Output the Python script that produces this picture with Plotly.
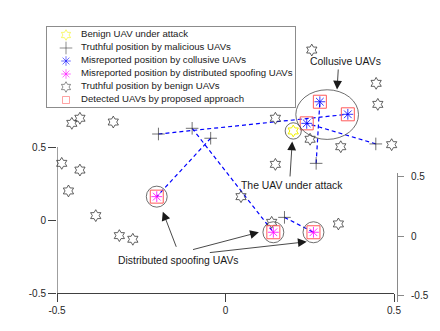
import plotly.graph_objects as go

FONT = "Liberation Sans, Arial, sans-serif"
W, H = 440, 331
OFF = 8  # page body margin the browser adds around the plot div

# truthful positions reported by benign UAVs
benign_x = [0.256, 0.447, 0.452, -0.456, -0.432, -0.333, 0.148, 0.251, 0.342, 0.493,
            -0.486, -0.432, -0.466, 0.148, -0.385, -0.315, -0.275, 0.046, 0.137, 0.335]
benign_y = [1.164, 0.936, 0.792, 0.662, 0.697, 0.671, 0.697, 0.553, 0.502, 0.516,
            0.388, 0.342, 0.199, 0.381, 0.030, -0.107, -0.132, 0.160, -0.016, -0.027]

# benign UAV under attack
target_x = [0.201]
target_y = [0.610]

# malicious UAVs: truthful positions (first three collusive, last three spoofing)
mal_x = [-0.199, 0.269, 0.446, -0.099, -0.044, 0.175]
mal_y = [0.589, 0.388, 0.521, 0.628, 0.560, 0.018]

# misreported positions, same order as the malicious UAVs above
col_x = [0.363, 0.280, 0.241]
col_y = [0.724, 0.810, 0.662]
spf_x = [0.142, -0.204, 0.261]
spf_y = [-0.084, 0.160, -0.084]

legend_names = ["Benign UAV under attack",
                "Truthful position by malicious UAVs",
                "Misreported position by collusive UAVs",
                "Misreported position by distributed spoofing UAVs",
                "Truthful position by benign UAVs",
                "Detected UAVs by proposed approach"]

tick_vals = [-0.5, 0, 0.5]
tick_text = ["-0.5", "0", "0.5"]


def dom_x(a, b):
    """window pixels -> paper domain (x)"""
    return [(a - OFF) / W, (b - OFF) / W]


def dom_y(top, bottom):
    """window pixels -> paper domain (y)"""
    return [1 - (bottom - OFF) / H, 1 - (top - OFF) / H]


fig = go.Figure()

# dashed link truthful -> misreported
rep_x = col_x + spf_x
rep_y = col_y + spf_y
lx, ly = [], []
for i in range(len(mal_x)):
    lx += [mal_x[i], rep_x[i], None]
    ly += [mal_y[i], rep_y[i], None]
fig.add_trace(go.Scatter(x=lx, y=ly, mode="lines",
                         line=dict(color="#0000ff", width=1.2, dash="4px,3px")))

fig.add_trace(go.Scatter(x=benign_x, y=benign_y, mode="markers", cliponaxis=False,
                         marker=dict(symbol="hexagram-open", size=9, color="#3a3a3a",
                                     line=dict(width=0.8))))
fig.add_trace(go.Scatter(x=target_x, y=target_y, mode="markers", cliponaxis=False,
                         marker=dict(symbol="hexagram-open", size=9, color="#f2f200",
                                     line=dict(width=1))))
fig.add_trace(go.Scatter(x=mal_x, y=mal_y, mode="markers", cliponaxis=False,
                         marker=dict(symbol="cross-thin-open", size=9, color="#333333",
                                     line=dict(width=0.7))))
fig.add_trace(go.Scatter(x=col_x, y=col_y, mode="markers", cliponaxis=False,
                         marker=dict(symbol="asterisk-open", size=9, color="#0000ff",
                                     line=dict(width=0.8))))
fig.add_trace(go.Scatter(x=spf_x, y=spf_y, mode="markers", cliponaxis=False,
                         marker=dict(symbol="asterisk-open", size=9, color="#ff00ff",
                                     line=dict(width=0.8))))
fig.add_trace(go.Scatter(x=rep_x, y=rep_y, mode="markers", cliponaxis=False,
                         marker=dict(symbol="square-open", size=13, color="#ff5a5a",
                                     line=dict(width=1))))

# empty trace so that the right hand axis gets drawn
fig.add_trace(go.Scatter(x=[None], y=[None], xaxis="x", yaxis="y3", hoverinfo="skip"))

# hand made legend on its own small axes (px units inside the box)
rows = list(range(len(legend_names)))
row_y = [35 + 13 * r for r in rows]
leg_symbols = ["hexagram-open", "cross-thin-open", "asterisk-open", "asterisk-open",
               "hexagram-open", "square-open"]
leg_colors = ["#f2f200", "#333333", "#0000ff", "#ff00ff", "#3a3a3a", "#ff5a5a"]
leg_sizes = [8, 9, 8, 8, 8, 7]
fig.add_trace(go.Scatter(x=[66] * len(rows), y=row_y, xaxis="x2", yaxis="y2", mode="markers",
                         cliponaxis=False,
                         marker=dict(symbol=leg_symbols, size=leg_sizes, color=leg_colors,
                                     line=dict(width=0.8))))
fig.add_trace(go.Scatter(x=[81] * len(rows), y=row_y, xaxis="x2", yaxis="y2", mode="text",
                         text=legend_names, textposition="middle right", cliponaxis=False,
                         textfont=dict(family=FONT, size=9.6, color="#1a1a1a")))

shapes = []
# left axis line only spans -0.5 .. 0.5
shapes.append(dict(type="line", xref="x", yref="y", x0=-0.5, x1=-0.5, y0=-0.5, y1=0.5,
                   line=dict(color="#404040", width=1)))
# circles round the spoofing UAVs and the target
for x, y in zip(spf_x, spf_y):
    shapes.append(dict(type="circle", xref="x", yref="y", x0=x - 0.031, x1=x + 0.031,
                       y0=y - 0.072, y1=y + 0.072, line=dict(color="#4a4a4a", width=0.8)))
shapes.append(dict(type="circle", xref="x", yref="y", x0=target_x[0] - 0.024,
                   x1=target_x[0] + 0.024, y0=target_y[0] - 0.056, y1=target_y[0] + 0.056,
                   line=dict(color="#4a4a4a", width=0.8)))
# ellipse round the collusive group
cx = sum(col_x) / len(col_x) + 0.007
cy = sum(col_y) / len(col_y) - 0.01
shapes.append(dict(type="circle", xref="x", yref="y", x0=cx - 0.093, x1=cx + 0.093,
                   y0=cy - 0.17, y1=cy + 0.17, line=dict(color="#4a4a4a", width=0.8)))

ann = []
txt = dict(family=FONT, size=10.4, color="#1a1a1a")
ann.append(dict(x=0.357, y=1.089, text="Collusive UAVs", showarrow=False, font=txt))
ann.append(dict(x=0.197, y=0.235, text="The UAV under attack", showarrow=False, font=txt))
ann.append(dict(x=-0.138, y=-0.274, text="Distributed spoofing UAVs", showarrow=False, font=txt))
arrows = [(0.331, 0.894, 1.3, -21.5), (0.198, 0.538, -2.3, 36.5),
          (-0.186, 0.057, 14, 36.6), (0.099, -0.084, -67.3, 17.7), (0.241, -0.149, -98.4, 11)]
for hx, hy, axx, ayy in arrows:
    ann.append(dict(x=hx, y=hy, ax=axx, ay=ayy, text="", showarrow=True, arrowhead=2,
                    arrowsize=2.2, arrowwidth=0.8, arrowcolor="#1a1a1a", standoff=0))

tickfont = dict(family=FONT, size=10, color="#262626")
fig.update_layout(
    width=W, height=H,
    margin=dict(l=0, r=0, t=0, b=0, autoexpand=False),
    paper_bgcolor="white", plot_bgcolor="rgba(0,0,0,0)",
    showlegend=False,
    shapes=shapes, annotations=ann,
    xaxis=dict(domain=dom_x(57, 394), range=[-0.5, 0.5], showline=True,
               linecolor="#404040", linewidth=1, ticks="outside", ticklen=8,
               tickcolor="#404040", tickvals=tick_vals, ticktext=tick_text,
               showgrid=False, zeroline=False, tickfont=tickfont, automargin=False),
    yaxis=dict(domain=dom_y(44.8, 293), range=[-0.5, 1.2], showline=False,
               ticks="outside", ticklen=8, tickcolor="#404040", tickvals=tick_vals,
               ticktext=tick_text, showgrid=False, zeroline=False, tickfont=tickfont,
               automargin=False),
    yaxis3=dict(domain=dom_y(172.7, 301.7), range=[-0.55, 0.534],
                anchor="free", position=(397 - OFF) / W, side="right", showline=True,
                linecolor="#8a8a8a", linewidth=1, ticks="outside", ticklen=6,
                tickcolor="#8a8a8a", tickvals=tick_vals, ticktext=tick_text,
                ticklabelstandoff=5,
                showgrid=False, zeroline=False, tickfont=tickfont, automargin=False),
    xaxis2=dict(domain=dom_x(47, 295), range=[47, 295], anchor="y2",
                showline=True, mirror=True, linecolor="#8c8c8c", linewidth=1,
                showticklabels=False, ticks="", showgrid=False, zeroline=False,
                automargin=False),
    yaxis2=dict(domain=dom_y(27, 107), range=[107, 27], anchor="x2",
                showline=True, mirror=True, linecolor="#8c8c8c", linewidth=1,
                showticklabels=False, ticks="", showgrid=False, zeroline=False,
                automargin=False),
)

fig.write_html("out.html")
